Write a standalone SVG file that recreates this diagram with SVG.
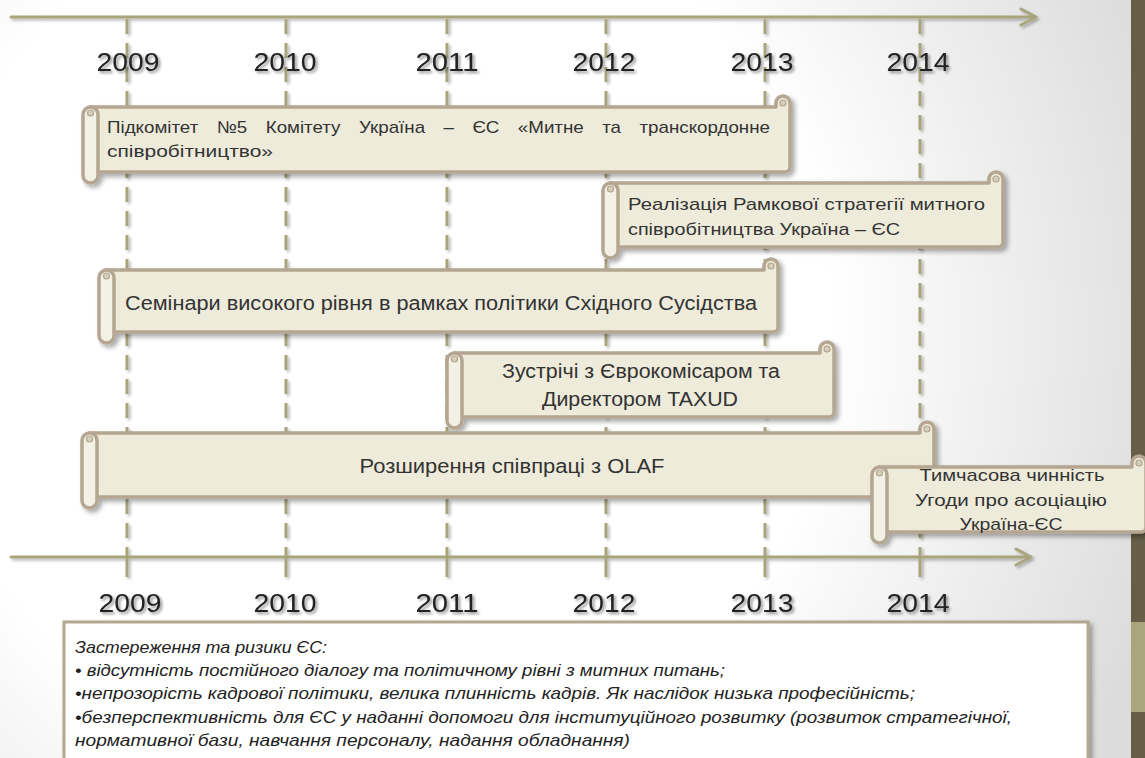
<svg xmlns="http://www.w3.org/2000/svg" width="1145" height="758" viewBox="0 0 1145 758">
<defs>
  <radialGradient id="bg" cx="380" cy="330" r="820" gradientUnits="userSpaceOnUse">
    <stop offset="0.55" stop-color="#ffffff"/>
    <stop offset="1" stop-color="#dcdcdc"/>
  </radialGradient>
  <filter id="sh" x="-5%" y="-15%" width="115%" height="140%">
    <feGaussianBlur in="SourceAlpha" stdDeviation="2.5"/>
    <feOffset dx="3" dy="3"/>
    <feComponentTransfer><feFuncA type="linear" slope="0.35"/></feComponentTransfer>
    <feMerge><feMergeNode/><feMergeNode in="SourceGraphic"/></feMerge>
  </filter>
  <filter id="tsh" x="-20%" y="-30%" width="150%" height="170%">
    <feGaussianBlur in="SourceAlpha" stdDeviation="1.6"/>
    <feOffset dx="2" dy="2"/>
    <feComponentTransfer><feFuncA type="linear" slope="0.45"/></feComponentTransfer>
    <feMerge><feMergeNode/><feMergeNode in="SourceGraphic"/></feMerge>
  </filter>
  <filter id="lsh" x="-20%" y="-5%" width="150%" height="115%">
    <feGaussianBlur in="SourceAlpha" stdDeviation="1.5"/>
    <feOffset dx="2" dy="2"/>
    <feComponentTransfer><feFuncA type="linear" slope="0.3"/></feComponentTransfer>
    <feMerge><feMergeNode/><feMergeNode in="SourceGraphic"/></feMerge>
  </filter>
</defs>
<style>
  .ax{stroke:#a8a47b;stroke-width:3;fill:none;stroke-linecap:round;stroke-linejoin:round}
  .vl{stroke:#a8a47b;stroke-width:3;stroke-dasharray:15 9;fill:none}
  .tk{stroke:#a8a47b;stroke-width:3;fill:none}
  .yr{font-family:"Liberation Sans",Arial,sans-serif;font-size:26px;fill:#222;text-anchor:middle}
  .body{fill:#eeebda;stroke:#b4a690;stroke-width:3.5;stroke-linejoin:round}
  .tube{fill:#f3f1e6;stroke:#b4a690;stroke-width:3.5}
  .curl{fill:#d6cfba;stroke:#b4a690;stroke-width:1.2}
  .t17{font-family:"Liberation Sans",Arial,sans-serif;font-size:17px;fill:#333}
  .t20{font-family:"Liberation Sans",Arial,sans-serif;font-size:20px;fill:#333}
  .mid{text-anchor:middle}
  .box{fill:#ffffff;stroke:#b4a690;stroke-width:3}
  .bt{font-family:"Liberation Sans",Arial,sans-serif;font-size:17px;font-style:italic;fill:#222}
</style>
<rect x="0" y="0" width="1145" height="758" fill="url(#bg)"/>
<rect x="1131" y="0" width="14" height="758" fill="#665e47"/>
<rect x="1131" y="622" width="14" height="90" fill="#a9a67e"/>

<g id="connectors" filter="url(#lsh)">
  <path class="ax" d="M11 17 H1036 M1021 9 L1036 17 L1021 25"/>
  <path class="ax" d="M11 557 H1031 M1016 549 L1031 557 L1016 565"/>
  <path class="vl" d="M127 19 V548 M286 19 V548 M447 19 V548 M606 19 V548 M765 19 V548 M920 19 V548"/>
  <path class="tk" d="M127 548 V577 M286 548 V577 M447 548 V577 M606 548 V577 M765 548 V577 M920 548 V577"/>
</g>

<g id="years-top" filter="url(#tsh)">
  <text class="yr" x="128" y="71" textLength="63" lengthAdjust="spacingAndGlyphs">2009</text>
  <text class="yr" x="285" y="71" textLength="63" lengthAdjust="spacingAndGlyphs">2010</text>
  <text class="yr" x="447" y="71" textLength="63" lengthAdjust="spacingAndGlyphs">2011</text>
  <text class="yr" x="604" y="71" textLength="63" lengthAdjust="spacingAndGlyphs">2012</text>
  <text class="yr" x="762" y="71" textLength="63" lengthAdjust="spacingAndGlyphs">2013</text>
  <text class="yr" x="918" y="71" textLength="63" lengthAdjust="spacingAndGlyphs">2014</text>
</g>
<g id="years-bottom" filter="url(#tsh)">
  <text class="yr" x="130" y="612" textLength="63" lengthAdjust="spacingAndGlyphs">2009</text>
  <text class="yr" x="285" y="612" textLength="63" lengthAdjust="spacingAndGlyphs">2010</text>
  <text class="yr" x="447" y="612" textLength="63" lengthAdjust="spacingAndGlyphs">2011</text>
  <text class="yr" x="604" y="612" textLength="63" lengthAdjust="spacingAndGlyphs">2012</text>
  <text class="yr" x="762" y="612" textLength="63" lengthAdjust="spacingAndGlyphs">2013</text>
  <text class="yr" x="918" y="612" textLength="63" lengthAdjust="spacingAndGlyphs">2014</text>
</g>

<g id="s1">
  <g filter="url(#sh)">
    <path class="body" d="M90 107 H776 V103 A7 7 0 0 1 790 103 V167 A5 5 0 0 1 785 172 H90 Z"/>
    <rect class="tube" x="83" y="107" width="15" height="76" rx="7.5"/>
  </g>
  <circle class="curl" cx="783" cy="103" r="3"/>
  <circle class="curl" cx="90.5" cy="113" r="3"/>
  <text class="t17" x="107" y="133" word-spacing="12" textLength="663" lengthAdjust="spacingAndGlyphs">Підкомітет №5 Комітету Україна – ЄС «Митне та транскордонне</text>
  <text class="t17" x="107" y="157" textLength="166" lengthAdjust="spacingAndGlyphs">співробітництво»</text>
</g>

<g id="s2">
  <g filter="url(#sh)">
    <path class="body" d="M610 183 H989 V179 A7 7 0 0 1 1003 179 V242 A5 5 0 0 1 998 247 H610 Z"/>
    <rect class="tube" x="603" y="183" width="15" height="75" rx="7.5"/>
  </g>
  <circle class="curl" cx="996" cy="179" r="3"/>
  <circle class="curl" cx="610.5" cy="189" r="3"/>
  <text class="t17" x="628" y="210" textLength="357" lengthAdjust="spacingAndGlyphs">Реалізація Рамкової стратегії митного</text>
  <text class="t17" x="628" y="235" textLength="272" lengthAdjust="spacingAndGlyphs">співробітництва Україна – ЄС</text>
</g>

<g id="s3">
  <g filter="url(#sh)">
    <path class="body" d="M106 270 H764 V266 A7 7 0 0 1 778 266 V327 A5 5 0 0 1 773 332 H106 Z"/>
    <rect class="tube" x="99" y="270" width="15" height="73" rx="7.5"/>
  </g>
  <circle class="curl" cx="771" cy="266" r="3"/>
  <circle class="curl" cx="106.5" cy="276" r="3"/>
  <text class="t20" x="125" y="310" textLength="632" lengthAdjust="spacingAndGlyphs">Семінари високого рівня в рамках політики Східного Сусідства</text>
</g>

<g id="s4">
  <g filter="url(#sh)">
    <path class="body" d="M454 353 H820 V349 A7 7 0 0 1 834 349 V412 A5 5 0 0 1 829 417 H454 Z"/>
    <rect class="tube" x="447" y="353" width="15" height="75" rx="7.5"/>
  </g>
  <circle class="curl" cx="827" cy="349" r="3"/>
  <circle class="curl" cx="454.5" cy="359" r="3"/>
  <text class="t20 mid" x="641" y="378" textLength="278" lengthAdjust="spacingAndGlyphs">Зустрічі з Єврокомісаром та</text>
  <text class="t20 mid" x="640" y="406" textLength="196" lengthAdjust="spacingAndGlyphs">Директором TAXUD</text>
</g>

<g id="s5">
  <g filter="url(#sh)">
    <path class="body" d="M89 433 H920 V429 A7 7 0 0 1 934 429 V492 A5 5 0 0 1 929 497 H89 Z"/>
    <rect class="tube" x="82" y="433" width="15" height="75" rx="7.5"/>
  </g>
  <circle class="curl" cx="927" cy="429" r="3"/>
  <circle class="curl" cx="89.5" cy="439" r="3"/>
  <text class="t20 mid" x="512" y="473" textLength="305" lengthAdjust="spacingAndGlyphs">Розширення співпраці з OLAF</text>
</g>

<g id="s6">
  <g filter="url(#sh)">
    <path class="body" d="M879 467 H1132 V463 A7 7 0 0 1 1146 463 V527 A5 5 0 0 1 1141 532 H879 Z"/>
    <rect class="tube" x="872" y="467" width="15" height="76" rx="7.5"/>
  </g>
  <circle class="curl" cx="1139" cy="463" r="3"/>
  <circle class="curl" cx="879.5" cy="473" r="3"/>
  <text class="t17 mid" x="1012" y="481" textLength="185" lengthAdjust="spacingAndGlyphs">Тимчасова чинність</text>
  <text class="t17 mid" x="1011" y="506" textLength="192" lengthAdjust="spacingAndGlyphs">Угоди про асоціацію</text>
  <text class="t17 mid" x="1011" y="530" textLength="103" lengthAdjust="spacingAndGlyphs">Україна-ЄС</text>
</g>

<g id="risks">
  <rect class="box" x="64" y="622" width="1024" height="160" filter="url(#sh)"/>
  <text class="bt" x="75" y="653" textLength="252" lengthAdjust="spacingAndGlyphs">Застереження та ризики ЄС:</text>
  <text class="bt" x="75" y="676" textLength="650" lengthAdjust="spacingAndGlyphs">• відсутність постійного діалогу та політичному рівні з митних питань;</text>
  <text class="bt" x="75" y="699" textLength="840" lengthAdjust="spacingAndGlyphs">•непрозорість кадрової політики, велика плинність кадрів. Як наслідок низька професійність;</text>
  <text class="bt" x="75" y="723" textLength="937" lengthAdjust="spacingAndGlyphs">•безперспективність для ЄС у наданні допомоги для інституційного розвитку (розвиток стратегічної,</text>
  <text class="bt" x="75" y="746" textLength="555" lengthAdjust="spacingAndGlyphs">нормативної бази, навчання персоналу, надання обладнання)</text>
</g>
</svg>
